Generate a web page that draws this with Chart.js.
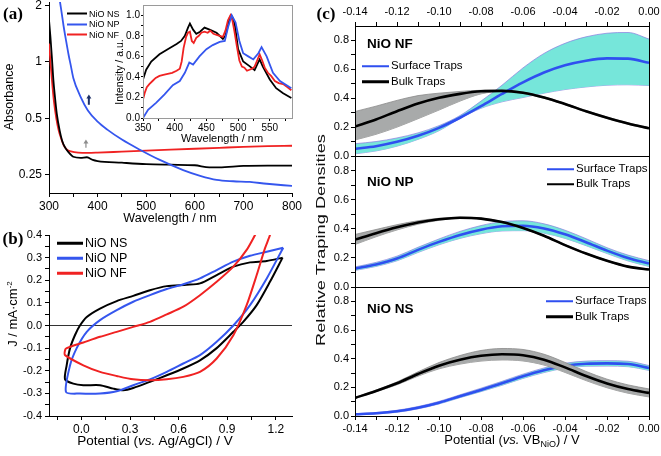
<!DOCTYPE html>
<html><head><meta charset="utf-8">
<script src="https://cdn.jsdelivr.net/npm/chart.js@4.4.1/dist/chart.umd.min.js"></script>
<style>
html,body{margin:0;padding:0;background:#fff;overflow:hidden;}
#wrap{position:relative;width:661px;height:456px;font-family:'Liberation Sans',Arial,sans-serif;color:#000;overflow:hidden;}
canvas{position:absolute;}
.t{position:absolute;white-space:nowrap;line-height:1;}
.c{transform:translate(-50%,-50%);}
.v{transform:translate(-50%,-50%) rotate(-90deg);}
.lab{font-family:'Liberation Serif','Times New Roman',serif;font-weight:bold;font-size:17px;}
.lg{position:absolute;white-space:nowrap;line-height:1;display:flex;align-items:center;transform:translateY(-50%);}
.lg span.ln{display:inline-block;margin-right:2px;}
</style></head><body><div id="wrap"></div>
<script>
// ---------- Panel (a): absorbance ----------
const absWlNS = [300,303,306,309,312,316,322,327,333,340,350,365,378,390,400,450,500,550,600,630,650,700,750,800];
const absNS   = [1.67,1.35,1.05,0.8,0.66,0.53,0.43,0.38,0.35,0.33,0.312,0.308,0.31,0.3,0.296,0.29,0.285,0.283,0.281,0.274,0.274,0.279,0.28,0.28];
const absWlNP = [320,325,330,335,340,345,350,365,380,400,420,450,487,528,576,611,645,679,713,748,800];
const absNP   = [2.3,1.9,1.55,1.3,1.1,0.95,0.82,0.65,0.55,0.48,0.435,0.385,0.34,0.30,0.265,0.247,0.235,0.231,0.229,0.224,0.218];
const absWlNF = [300,303,306,310,315,320,325,330,337,345,360,380,400,450,500,550,600,650,700,750,800];
const absNF   = [1.25,1.0,0.8,0.62,0.5,0.43,0.39,0.36,0.34,0.333,0.328,0.327,0.328,0.332,0.336,0.34,0.344,0.348,0.352,0.355,0.357];
const aTicksX = [300,350,400,450,500,550,600,650,700,750,800];
const aTicksY = [0.25,0.5,1,2];
const arrowWl = [382,376];
const arrowFrom = [0.59,0.348];
const arrowTo = [0.67,0.385];

// ---------- Panel (a) inset: PL ----------
const inWlNS = [350,355,363,376,389,403,410,416,421,424,429,434,440,447,455,466,476,480,484,487,489,492,495,500,508,518,526,530,534,539,550,560,571,584];
const inNS   = [0.375,0.47,0.55,0.62,0.67,0.72,0.75,0.80,0.88,0.92,0.86,0.82,0.84,0.88,0.86,0.83,0.77,0.8,0.9,0.98,1.0,0.97,0.9,0.67,0.55,0.505,0.466,0.52,0.57,0.5,0.375,0.29,0.24,0.195];
const inWlNF = [350,353,356,360,365,370,376,382,389,396,403,408,411,414,418,421,424,427,430,434,438,442,447,452,456,461,466,471,476,480,484,488,491,494,498,502,506,510,514,518,522,526,530,534,538,542,547,552,558,564,571,578,584];
const inNF   = [0.18,0.25,0.3,0.33,0.36,0.39,0.41,0.42,0.43,0.44,0.46,0.48,0.55,0.68,0.79,0.83,0.84,0.75,0.73,0.78,0.8,0.83,0.84,0.83,0.85,0.82,0.81,0.8,0.79,0.85,0.95,1.0,0.95,0.85,0.7,0.56,0.5,0.49,0.46,0.47,0.48,0.5,0.56,0.62,0.56,0.49,0.44,0.41,0.36,0.34,0.33,0.3,0.27];
const inWlNP = [350,358,371,384,397,408,416,423,429,439,450,460,471,479,484,490,496,502,508,516,524,532,537,545,555,566,584];
const inNP   = [0.0,0.08,0.15,0.23,0.32,0.36,0.44,0.54,0.52,0.6,0.67,0.71,0.74,0.75,0.88,1.0,0.93,0.75,0.63,0.6,0.57,0.63,0.69,0.6,0.44,0.36,0.29];
const inTicksX = [350,375,400,425,450,475,500,525,550,575];
const inTicksY = [0,0.1,0.2,0.3,0.4,0.5,0.6,0.7,0.8,0.9,1.0];

// ---------- Panel (b): cyclic voltammetry ----------
const cvNS_V = [1.242,1.144,1.041,0.938,0.835,0.732,0.650,0.527,0.423,0.320,0.218,0.115,0.033,-0.009,-0.040,-0.070,-0.091,-0.101,-0.050,0.012,0.115,0.197,0.259,0.320,0.423,0.527,0.629,0.732,0.835,0.938,0.999,1.082,1.164,1.242];
const cvNS_J = [0.30,0.285,0.279,0.26,0.223,0.186,0.18,0.174,0.156,0.131,0.108,0.075,0.038,0.0,-0.043,-0.10,-0.176,-0.238,-0.257,-0.264,-0.264,-0.279,-0.286,-0.276,-0.249,-0.22,-0.19,-0.154,-0.10,-0.028,0.016,0.09,0.193,0.30];
const cvNP_V = [1.246,1.144,1.041,0.938,0.835,0.732,0.629,0.527,0.423,0.320,0.218,0.115,0.033,-0.029,-0.070,-0.095,-0.009,0.115,0.218,0.320,0.423,0.527,0.629,0.732,0.835,0.938,1.041,1.144,1.246];
const cvNP_J = [0.344,0.326,0.308,0.282,0.245,0.208,0.182,0.161,0.134,0.105,0.068,0.024,-0.028,-0.10,-0.176,-0.294,-0.301,-0.301,-0.291,-0.264,-0.238,-0.205,-0.168,-0.131,-0.072,0.0,0.09,0.208,0.344];
const cvNF_V = [1.11,1.072,1.020,0.938,0.835,0.732,0.629,0.527,0.423,0.320,0.218,0.115,0.012,-0.091,-0.101,-0.101,0.012,0.115,0.218,0.320,0.423,0.527,0.629,0.732,0.835,0.938,1.020,1.082,1.133,1.164,1.18];
const cvNF_J = [0.45,0.40,0.334,0.26,0.193,0.134,0.083,0.049,0.016,-0.006,-0.028,-0.05,-0.075,-0.10,-0.109,-0.131,-0.176,-0.205,-0.223,-0.238,-0.242,-0.238,-0.227,-0.205,-0.146,-0.043,0.09,0.223,0.341,0.40,0.45];
const bTicksX = [-0.15,0,0.15,0.3,0.45,0.6,0.75,0.9,1.05,1.2];
const bTicksY = [-0.4,-0.35,-0.3,-0.25,-0.2,-0.15,-0.1,-0.05,0,0.05,0.1,0.15,0.2,0.25,0.3,0.35,0.4];

// ---------- Panel (c): trap densities ----------
const potC = [-0.14,-0.13,-0.12,-0.11,-0.10,-0.09,-0.08,-0.07,-0.06,-0.05,-0.04,-0.03,-0.02,-0.01,0.00];
const nfSurf   = [0.049,0.068,0.098,0.14,0.195,0.265,0.345,0.43,0.51,0.578,0.628,0.66,0.676,0.674,0.645];
const nfSurfHi = [0.085,0.10,0.125,0.16,0.21,0.28,0.38,0.49,0.61,0.71,0.78,0.825,0.85,0.855,0.81];
const nfSurfLo = [0.015,0.035,0.068,0.115,0.175,0.26,0.33,0.375,0.405,0.435,0.46,0.478,0.49,0.493,0.488];
const nfBulk   = [0.204,0.253,0.31,0.363,0.403,0.43,0.448,0.451,0.438,0.405,0.36,0.31,0.265,0.225,0.192];
const nfBulkHi = [0.308,0.345,0.385,0.418,0.435,0.447,0.455,0.455,0.443,0.41,0.365,0.315,0.27,0.23,0.197];
const nfBulkLo = [0.111,0.15,0.2,0.258,0.318,0.38,0.43,0.447,0.433,0.4,0.355,0.305,0.26,0.22,0.187];
const npSurf   = [0.126,0.155,0.196,0.255,0.31,0.358,0.394,0.417,0.421,0.402,0.362,0.308,0.25,0.199,0.161];
const npSurfHi = [0.138,0.169,0.212,0.273,0.33,0.382,0.422,0.449,0.455,0.434,0.39,0.332,0.27,0.219,0.181];
const npSurfLo = [0.114,0.141,0.18,0.237,0.29,0.334,0.366,0.385,0.387,0.37,0.334,0.284,0.23,0.179,0.141];
const npBulk   = [0.326,0.37,0.41,0.443,0.465,0.476,0.47,0.446,0.405,0.352,0.288,0.23,0.18,0.14,0.12];
const npBulkHi = [0.361,0.395,0.428,0.455,0.472,0.48,0.474,0.45,0.409,0.356,0.292,0.234,0.184,0.144,0.124];
const npBulkLo = [0.292,0.345,0.392,0.431,0.458,0.472,0.466,0.442,0.401,0.348,0.284,0.226,0.176,0.136,0.116];
const nsSurf   = [0.012,0.019,0.033,0.058,0.093,0.138,0.182,0.228,0.277,0.319,0.351,0.365,0.367,0.363,0.335];
const nsSurfHi = [0.016,0.024,0.04,0.066,0.102,0.148,0.194,0.242,0.292,0.335,0.368,0.383,0.386,0.382,0.352];
const nsSurfLo = [0.008,0.014,0.026,0.05,0.084,0.128,0.17,0.214,0.262,0.303,0.334,0.347,0.348,0.344,0.318];
const nsBulk   = [0.126,0.175,0.228,0.293,0.351,0.392,0.42,0.431,0.424,0.393,0.339,0.279,0.227,0.188,0.161];
const nsBulkHi = [0.129,0.181,0.238,0.308,0.373,0.422,0.457,0.471,0.464,0.431,0.374,0.311,0.257,0.217,0.189];
const nsBulkLo = [0.123,0.169,0.218,0.278,0.329,0.362,0.383,0.391,0.384,0.355,0.304,0.247,0.197,0.159,0.133];
const cTicksX = [-0.14,-0.13,-0.12,-0.11,-0.10,-0.09,-0.08,-0.07,-0.06,-0.05,-0.04,-0.03,-0.02,-0.01,0.00];
const cTicksY = [0,0.1,0.2,0.3,0.4,0.5,0.6,0.7,0.8];

// ---------- styles ----------
const BLACK = '#000000', BLUE = '#3556ee', RED = '#f02222';
const CBLUE = '#2f4ff0', CYAN = 'rgba(118,230,218,1)', CYANEDGE = 'rgba(140,125,225,0.9)';
const GRAY = 'rgba(168,170,170,1)', GRAYEDGE = '#8a8a8a';
const FONT = "'Liberation Sans', Arial, sans-serif";

Chart.defaults.font.family = FONT;
Chart.defaults.color = '#000';

const wrap = document.getElementById('wrap');

const framePlugin = {
  id: 'frame',
  afterDraw(chart, args, opts) {
    if (!opts || !opts.show) return;
    const a = chart.chartArea, ctx = chart.ctx;
    ctx.save();
    ctx.strokeStyle = opts.color || '#000';
    ctx.lineWidth = 1;
    const l = Math.round(a.left), t = Math.round(a.top), r = Math.round(a.right), b = Math.round(a.bottom);
    ctx.strokeRect(l + 0.5, t + 0.5, r - l, b - t);
    ctx.restore();
  }
};
Chart.register(framePlugin);

const arrowPlugin = {
  id: 'arrows',
  afterDatasetsDraw(chart) {
    const ctx = chart.ctx, xs = chart.scales.x, ys = chart.scales.y;
    const cols = ['#1c2f66', '#8c8c8c'];
    arrowWl.forEach((w, i) => {
      const x = xs.getPixelForValue(w), y0 = ys.getPixelForValue(arrowFrom[i]), y1 = ys.getPixelForValue(arrowTo[i]);
      ctx.save();
      ctx.strokeStyle = cols[i]; ctx.fillStyle = cols[i]; ctx.lineWidth = i === 0 ? 2 : 1.2;
      ctx.beginPath(); ctx.moveTo(x, y0); ctx.lineTo(x, y1 + 3); ctx.stroke();
      ctx.beginPath(); ctx.moveTo(x - 2.5, y1 + 4); ctx.lineTo(x + 2.5, y1 + 4); ctx.lineTo(x, y1); ctx.closePath(); ctx.fill();
      ctx.restore();
    });
  }
};

function pts(xs, ys) { return xs.map((x, i) => ({ x: x, y: ys[i] })); }
function ser(xs, ys, color, width, extra) {
  return Object.assign({ data: pts(xs, ys), borderColor: color, backgroundColor: color, borderWidth: width, pointRadius: 0, fill: false, tension: 0 }, extra || {});
}

function axis(o) {
  return {
    type: o.type || 'linear', position: o.position, min: o.min, max: o.max, display: o.display !== false,
    border: { display: true, color: o.bc || '#000', width: 1 },
    grid: Object.assign({ drawOnChartArea: false, drawTicks: true, tickLength: o.tl || 4, color: o.bc || '#000', tickColor: o.tc || '#000' }, o.grid || {}),
    ticks: { autoSkip: false, maxRotation: 0, minRotation: 0, padding: o.pad === undefined ? 2 : o.pad, font: { size: o.fs || 12, family: FONT }, color: '#000', callback: o.cb },
    afterBuildTicks: s => { s.ticks = o.ticks.map(v => ({ value: v })); },
    afterFit: s => {
      if (o.w !== undefined) s.width = o.w;
      if (o.h !== undefined) s.height = o.h;
      s.paddingLeft = 0; s.paddingRight = 0; s.paddingTop = 0; s.paddingBottom = 0;
    }
  };
}

function mk(rect, m, datasets, scales, extraOpts, plugins) {
  const c = document.createElement('canvas');
  const W = rect.r - rect.l + m.l + m.r, H = rect.b - rect.t + m.t + m.b;
  c.width = W; c.height = H;
  c.style.left = (rect.l - m.l) + 'px'; c.style.top = (rect.t - m.t) + 'px';
  wrap.appendChild(c);
  const xPos = scales.x.position, xShown = scales.x.display !== false;
  const pad = { left: 0, right: m.r, top: m.t, bottom: m.b };
  if (xShown && xPos === 'bottom') pad.bottom = 0;
  if (xShown && xPos === 'top') pad.top = 0;
  return new Chart(c, {
    type: 'line',
    data: { datasets: datasets },
    options: {
      responsive: false, maintainAspectRatio: false, animation: false, devicePixelRatio: 1,
      layout: { padding: pad },
      plugins: Object.assign({ legend: { display: false }, tooltip: { enabled: false } }, (extraOpts && extraOpts.plugins) || {}),
      scales: scales,
      elements: { point: { radius: 0 } }
    },
    plugins: plugins || []
  });
}

// ---------- Panel (a) main ----------
mk({ l: 49, t: 2, r: 292, b: 193 }, { l: 49, t: 2, r: 14, b: 30 }, [
  ser(absWlNP, absNP, BLUE, 1.8, { cubicInterpolationMode: 'monotone' }),
  ser(absWlNS, absNS, BLACK, 1.8, { cubicInterpolationMode: 'monotone' }),
  ser(absWlNF, absNF, RED, 1.8, { cubicInterpolationMode: 'monotone' })
], {
  x: axis({ position: 'bottom', min: 300, max: 800, ticks: aTicksX, h: 30, fs: 12, cb: v => (v % 100 === 0 ? String(v) : '') }),
  y: axis({ type: 'logarithmic', position: 'left', min: 0.2, max: 2.08, ticks: aTicksY, w: 49, fs: 12, pad: 3, cb: v => String(v) })
}, {}, [arrowPlugin]);

// ---------- Panel (a) inset ----------
mk({ l: 143, t: 5, r: 292, b: 118 }, { l: 18, t: 5, r: 10, b: 14 }, [
  ser(inWlNP, inNP, BLUE, 1.8),
  ser(inWlNF, inNF, RED, 1.8),
  ser(inWlNS, inNS, BLACK, 1.8)
], {
  x: axis({ position: 'bottom', min: 350, max: 585, ticks: inTicksX, h: 14, fs: 10, tl: 3, pad: 1, bc: '#444', cb: v => (v % 50 === 0 ? String(v) : '') }),
  y: axis({ position: 'left', min: 0, max: 1.1, ticks: inTicksY, w: 18, fs: 10, tl: 2, pad: 1, bc: '#444', cb: v => (Math.round(v * 10) % 2 === 0 ? v.toFixed(1) : '') })
}, { plugins: { frame: { show: true, color: '#9a9a9a' } } });

// ---------- Panel (b) ----------
mk({ l: 49, t: 235, r: 292, b: 416 }, { l: 49, t: 8, r: 12, b: 20 }, [
  ser(cvNF_V, cvNF_J, RED, 2, { tension: 0.25 }),
  ser(cvNP_V, cvNP_J, BLUE, 2, { tension: 0.25 }),
  ser(cvNS_V, cvNS_J, BLACK, 2, { tension: 0.25 })
], {
  x: axis({ position: 'bottom', min: -0.2, max: 1.3, ticks: bTicksX, h: 20, fs: 12, cb: v => (Math.abs(Math.round(v * 100) % 30) < 1e-6 ? v.toFixed(1) : '') }),
  y: axis({ position: 'left', min: -0.4, max: 0.4, ticks: bTicksY, w: 49, fs: 11, pad: 3,
    grid: { drawOnChartArea: true, color: c => (c.tick && Math.abs(c.tick.value) < 1e-9 ? '#333' : 'rgba(0,0,0,0)'), tickColor: '#000' },
    cb: v => (Math.abs(Math.round(v * 100) % 10) < 1e-6 ? v.toFixed(1) : '') })
});

// ---------- Panel (c) ----------
function cSets(surf, sHi, sLo, bulk, bHi, bLo) {
  const mono = { cubicInterpolationMode: 'monotone' };
  return [
    ser(potC, bulk, BLACK, 2.6, Object.assign({ order: 0 }, mono)),
    ser(potC, bHi, GRAYEDGE, 0.8, Object.assign({ order: 1, fill: '+1', backgroundColor: GRAY }, mono)),
    ser(potC, bLo, GRAYEDGE, 0.8, Object.assign({ order: 1 }, mono)),
    ser(potC, surf, CBLUE, 2.6, Object.assign({ order: 2 }, mono)),
    ser(potC, sHi, CYANEDGE, 0.8, Object.assign({ order: 3, fill: '+1', backgroundColor: CYAN }, mono)),
    ser(potC, sLo, CYANEDGE, 0.8, Object.assign({ order: 3 }, mono))
  ];
}
const cxLabel = v => (Math.round(Math.abs(v) * 100) % 2 === 0 ? (Math.abs(v) < 1e-9 ? '0.00' : v.toFixed(2)) : '');
const cyLabel = v => (Math.round(v * 10) % 2 === 0 ? v.toFixed(1) : '');
function cY() { return axis({ position: 'left', min: 0, max: 0.9, ticks: cTicksY, w: 30, fs: 11, tl: 4, pad: 2, cb: cyLabel }); }

mk({ l: 355, t: 26, r: 649, b: 156 }, { l: 30, t: 26, r: 14, b: 8 }, cSets(nfSurf, nfSurfHi, nfSurfLo, nfBulk, nfBulkHi, nfBulkLo), {
  x: axis({ position: 'top', min: -0.14, max: 0, ticks: cTicksX, h: 26, fs: 11, pad: 3, cb: cxLabel }),
  y: cY()
}, { plugins: { frame: { show: true, color: '#000' } } });

mk({ l: 355, t: 156, r: 649, b: 287 }, { l: 30, t: 8, r: 14, b: 8 }, cSets(npSurf, npSurfHi, npSurfLo, npBulk, npBulkHi, npBulkLo), {
  x: Object.assign(axis({ position: 'bottom', min: -0.14, max: 0, ticks: cTicksX, h: 0, cb: () => '' }), { display: false }),
  y: cY()
}, { plugins: { frame: { show: true, color: '#000' } } });

mk({ l: 355, t: 287, r: 649, b: 416 }, { l: 30, t: 8, r: 14, b: 20 }, cSets(nsSurf, nsSurfHi, nsSurfLo, nsBulk, nsBulkHi, nsBulkLo), {
  x: axis({ position: 'bottom', min: -0.14, max: 0, ticks: cTicksX, h: 20, fs: 11, pad: 2, cb: cxLabel }),
  y: cY()
}, { plugins: { frame: { show: true, color: '#000' } } });

// ---------- HTML text ----------
function txt(html, x, y, cls, style) {
  const d = document.createElement('div');
  d.className = 't ' + (cls || 'c');
  d.innerHTML = html;
  d.style.left = x + 'px'; d.style.top = y + 'px';
  if (style) d.style.cssText += style;
  wrap.appendChild(d);
  return d;
}
function leg(x, y, len, thick, color, label, fs) {
  const d = document.createElement('div');
  d.className = 'lg';
  d.style.left = x + 'px'; d.style.top = y + 'px'; d.style.fontSize = fs + 'px';
  d.innerHTML = '<span class="ln" style="width:' + len + 'px;height:' + thick + 'px;background:' + color + '"></span><span>' + label + '</span>';
  wrap.appendChild(d);
}

txt('(a)', 13, 13, 'c lab');
txt('(b)', 13, 238, 'c lab');
txt('(c)', 326, 13, 'c lab');

txt('Absorbance', 9, 97, 'v', 'font-size:12.5px;');
txt('Wavelength / nm', 170, 218, 'c', 'font-size:12.5px;');
txt('Intensity / a.u.', 119, 72, 'v', 'font-size:10.5px;');
txt('Wavelength / nm', 222, 138, 'c', 'font-size:11px;');
txt('J / mA·cm<sup style="font-size:8px;vertical-align:5px;">-2</sup>', 12, 314, 'v', 'font-size:13px;');
txt('Potential (<i>vs.</i> Ag/AgCl) / V', 155, 441, 'c', 'font-size:13.5px;');
txt('Relative Traping Densities', 321, 240, 'c', 'font-size:12px;color:#111;transform:translate(-50%,-50%) rotate(-90deg) scaleX(1.52);');
txt('Potential (<i>vs.</i> VB<sub style="font-size:9px;vertical-align:-3px;">NiO</sub>) / V', 512, 441, 'c', 'font-size:13px;');

txt('NiO NF', 367, 44, 't', 'font-size:13.5px;font-weight:bold;transform:translateY(-50%);');
txt('NiO NP', 367, 182, 't', 'font-size:13.5px;font-weight:bold;transform:translateY(-50%);');
txt('NiO NS', 367, 309, 't', 'font-size:13.5px;font-weight:bold;transform:translateY(-50%);');

leg(67, 13.5, 20, 2, BLACK, 'NiO NS', 9);
leg(67, 24, 20, 2, BLUE, 'NiO NP', 9);
leg(67, 34.5, 20, 2, RED, 'NiO NF', 9);

leg(57, 243, 26, 2.5, BLACK, 'NiO NS', 12.5);
leg(57, 258, 26, 2.5, BLUE, 'NiO NP', 12.5);
leg(57, 273, 26, 2.5, RED, 'NiO NF', 12.5);

leg(362, 66, 27, 2.5, CBLUE, 'Surface Traps', 11.5);
leg(362, 81.5, 27, 2.5, BLACK, 'Bulk Traps', 11.5);
leg(547, 169, 27, 2.5, CBLUE, 'Surface Traps', 11.5);
leg(547, 184, 27, 2.5, BLACK, 'Bulk Traps', 11.5);
leg(546, 301, 27, 2.5, CBLUE, 'Surface Traps', 11.5);
leg(546, 316.5, 27, 2.5, BLACK, 'Bulk Traps', 11.5);
</script></body></html>
